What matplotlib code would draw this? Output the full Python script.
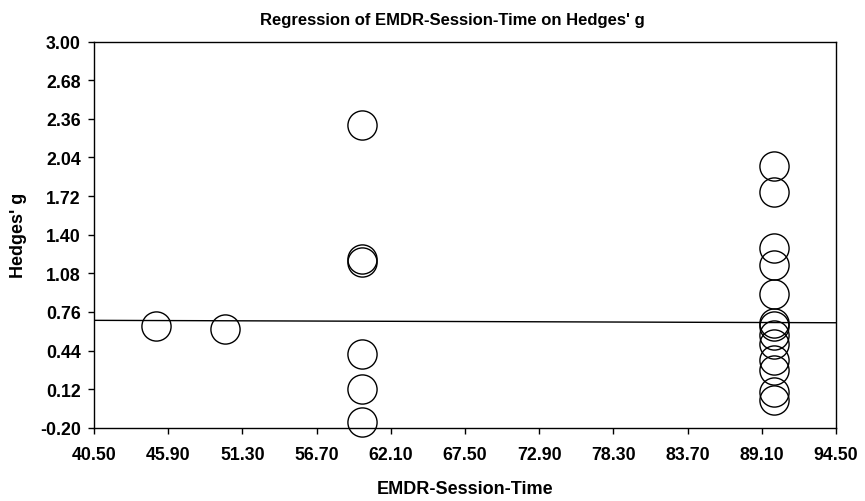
import matplotlib
matplotlib.use("Agg")
import matplotlib.pyplot as plt
import numpy as np

# session time (x) and Hedges' g (y)
session_time = [45.0, 50.0,
                60.0, 60.0, 60.0, 60.0, 60.0, 60.0,
                90.0, 90.0, 90.0, 90.0, 90.0, 90.0, 90.0, 90.0,
                90.0, 90.0, 90.0, 90.0, 90.0]
hedges_g = [0.645, 0.62,
            2.31, 1.20, 1.17, 0.41, 0.12, -0.15,
            1.97, 1.75, 1.29, 1.15, 0.91, 0.67, 0.64, 0.57,
            0.49, 0.36, 0.28, 0.10, 0.03]

# fitted regression line
reg_intercept = 0.705
reg_slope = -0.00037

x_ticks = [40.5, 45.9, 51.3, 56.7, 62.1, 67.5, 72.9, 78.3, 83.7, 89.1, 94.5]
y_ticks = [-0.20, 0.12, 0.44, 0.76, 1.08, 1.40, 1.72, 2.04, 2.36, 2.68, 3.00]

plt.rcParams['font.family'] = ['Liberation Sans', 'DejaVu Sans']
plt.rcParams['font.weight'] = 'bold'

fig = plt.figure(figsize=(8.65, 5.02), dpi=100)
ax = fig.add_axes([0.1087, 0.146, 0.8578, 0.769])

ax.plot(session_time, hedges_g, 'o', markersize=21, markerfacecolor='none',
        markeredgecolor='black', markeredgewidth=1.0, clip_on=False)

xl = np.array([x_ticks[0], x_ticks[-1]])
ax.plot(xl, reg_intercept + reg_slope * xl, color='black', linewidth=1.0)

ax.set_xlim(x_ticks[0], x_ticks[-1])
ax.set_ylim(y_ticks[0], y_ticks[-1])
ax.set_xticks(x_ticks)
ax.set_xticklabels(['%.2f' % v for v in x_ticks])
ax.set_yticks(y_ticks)
ax.set_yticklabels(['%.2f' % v for v in y_ticks])
ax.tick_params(direction='out', length=4.5, width=1, labelsize=12.8)
ax.tick_params(axis='x', pad=9)
ax.tick_params(axis='y', pad=5)

for s in ax.spines.values():
    s.set_linewidth(1.0)

ax.set_title("Regression of EMDR-Session-Time on Hedges' g", fontsize=12,
             fontweight='bold', pad=13, x=0.4825)
ax.set_xlabel('EMDR-Session-Time', fontsize=13, fontweight='bold', labelpad=12)
ax.set_ylabel("Hedges' g", fontsize=13, fontweight='bold', labelpad=9)

fig.savefig('out.png', dpi=100)
